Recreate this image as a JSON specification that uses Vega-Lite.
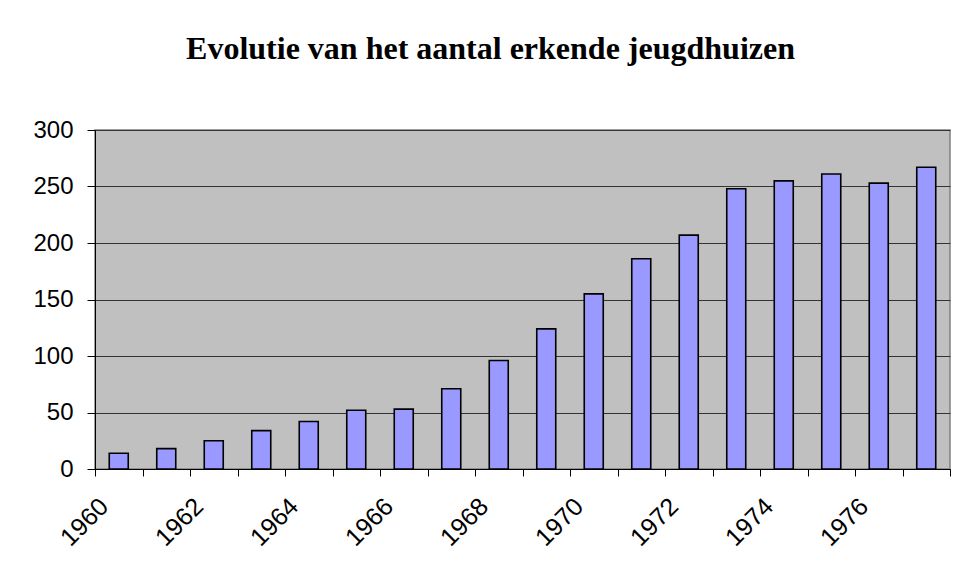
{
  "$schema": "https://vega.github.io/schema/vega-lite/v6.json",
  "width": 855,
  "height": 339,
  "autosize": "none",
  "padding": {"left": 95, "top": 130, "right": 9, "bottom": 104},
  "background": "white",
  "title": {
    "text": "Evolutie van het aantal erkende jeugdhuizen",
    "font": "Liberation Serif",
    "fontSize": 32,
    "fontWeight": "bold",
    "color": "black",
    "anchor": "middle",
    "baseline": "alphabetic",
    "offset": 27,
    "dx": -32
  },
  "data": {
    "values": [
      {"jaar": 1960, "aantal": 14},
      {"jaar": 1961, "aantal": 18},
      {"jaar": 1962, "aantal": 25},
      {"jaar": 1963, "aantal": 34},
      {"jaar": 1964, "aantal": 42},
      {"jaar": 1965, "aantal": 52},
      {"jaar": 1966, "aantal": 53},
      {"jaar": 1967, "aantal": 71},
      {"jaar": 1968, "aantal": 96},
      {"jaar": 1969, "aantal": 124},
      {"jaar": 1970, "aantal": 155},
      {"jaar": 1971, "aantal": 186},
      {"jaar": 1972, "aantal": 207},
      {"jaar": 1973, "aantal": 248},
      {"jaar": 1974, "aantal": 255},
      {"jaar": 1975, "aantal": 261},
      {"jaar": 1976, "aantal": 253},
      {"jaar": 1977, "aantal": 267}
    ]
  },
  "mark": {
    "type": "bar",
    "width": {"band": 0.4},
    "fill": "#9999FF",
    "stroke": "black",
    "strokeWidth": 1.6
  },
  "encoding": {
    "x": {
      "field": "jaar",
      "type": "ordinal",
      "scale": {"paddingInner": 0, "paddingOuter": 0},
      "axis": {
        "title": null,
        "tickBand": "extent",
        "tickSize": 7,
        "tickColor": "black",
        "domainColor": "black",
        "labelAngle": -45,
        "labelAlign": "right",
        "labelBaseline": "middle",
        "labelPadding": 26,
        "labelOffset": -15,
        "labelFont": "Liberation Sans",
        "labelFontSize": 25,
        "labelColor": "black",
        "labelExpr": "datum.value % 2 == 0 ? datum.label : ''",
        "grid": false
      }
    },
    "y": {
      "field": "aantal",
      "type": "quantitative",
      "scale": {"domain": [0, 300]},
      "axis": {
        "title": null,
        "values": [0, 50, 100, 150, 200, 250, 300],
        "tickSize": 8,
        "tickColor": "black",
        "domainColor": "black",
        "labelPadding": 14,
        "labelFont": "Liberation Sans",
        "labelFontSize": 24,
        "labelColor": "black",
        "grid": true,
        "gridColor": "#333333",
        "gridWidth": 1
      }
    }
  },
  "config": {
    "view": {"fill": "#C0C0C0", "stroke": "#808080", "strokeWidth": 1.5}
  }
}
